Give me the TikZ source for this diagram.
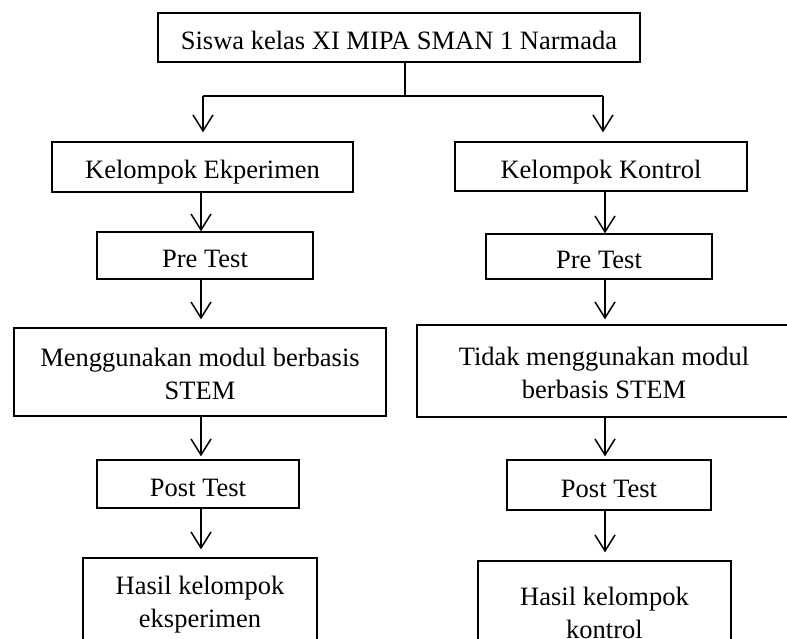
\documentclass[tikz,border=0pt]{standalone}
\usepackage{fontspec}
\setmainfont{Liberation Serif}
\usetikzlibrary{arrows.meta}
\newcommand\topstrut{\rule{0pt}{23pt}}
\begin{document}
\begin{tikzpicture}[x=1pt,y=-1pt,
  box/.style={draw, line width=1.3pt, inner sep=0pt, align=center,
    font=\fontsize{26.5}{33}\selectfont},
  oneline/.style={box, text height=24pt, text depth=0pt},
  conn/.style={line width=1.5pt},
  arr/.style={line width=1.5pt, -{Straight Barb[length=16pt,width=20pt,line width=1.5pt]}}]
\useasboundingbox (0,0) rectangle (787,639);
\clip (0,0) rectangle (787,639);
\fill[white] (0,0) rectangle (787,639);
% nodes
\node[oneline, minimum width=482pt, minimum height=49pt] (top) at (399,37.5) {Siswa kelas XI MIPA SMAN 1 Narmada};
\node[oneline, minimum width=301pt, minimum height=50pt] (kE) at (202.5,167) {Kelompok Ekperimen};
\node[oneline, minimum width=216pt, minimum height=47pt] (pE) at (205,255.5) {Pre Test};
\node[box, minimum width=372pt, minimum height=88pt] (mE) at (200,372) {\topstrut Menggunakan modul berbasis\\STEM};
\node[oneline, minimum width=202pt, minimum height=48pt] (poE) at (198,484) {Post Test};
\node[box, minimum width=234pt, minimum height=88pt] (hE) at (200,602) {\topstrut Hasil kelompok\\eksperimen};
\node[oneline, minimum width=292pt, minimum height=49pt] (kK) at (601,166.5) {Kelompok Kontrol};
\node[oneline, minimum width=226pt, minimum height=45pt] (pK) at (599,256.5) {Pre Test};
\node[box, minimum width=374pt, minimum height=92pt] (mK) at (604,371) {\topstrut Tidak menggunakan modul\\berbasis STEM};
\node[oneline, minimum width=204pt, minimum height=50pt] (poK) at (609,485) {Post Test};
\node[box, minimum width=253pt, minimum height=100pt] (hK) at (604.5,611) {\topstrut Hasil kelompok\\kontrol};
% coordinates
\coordinate (split) at (405,96);
\coordinate (bl) at (203,96);
\coordinate (br) at (603,96);
\coordinate (colL) at (201,0);
\coordinate (colR) at (605,0);
% connectors
\draw[conn] (top.south -| split) -- (split);
\draw[conn] (bl) -- (br);
\draw[arr, shorten >=9pt] (bl) -- (kE.north -| bl);
\draw[arr, shorten >=9pt] (br) -- (kK.north -| br);
\draw[arr] (kE.south -| colL) -- (pE.north -| colL);
\draw[arr, shorten >=8pt] (pE.south -| colL) -- (mE.north -| colL);
\draw[arr, shorten >=3pt] (mE.south -| colL) -- (poE.north -| colL);
\draw[arr, shorten >=8pt] (poE.south -| colL) -- (hE.north -| colL);
\draw[arr] (kK.south -| colR) -- (pK.north -| colR);
\draw[arr, shorten >=5pt] (pK.south -| colR) -- (mK.north -| colR);
\draw[arr, shorten >=3pt] (mK.south -| colR) -- (poK.north -| colR);
\draw[arr, shorten >=8pt] (poK.south -| colR) -- (hK.north -| colR);
\end{tikzpicture}
\end{document}
